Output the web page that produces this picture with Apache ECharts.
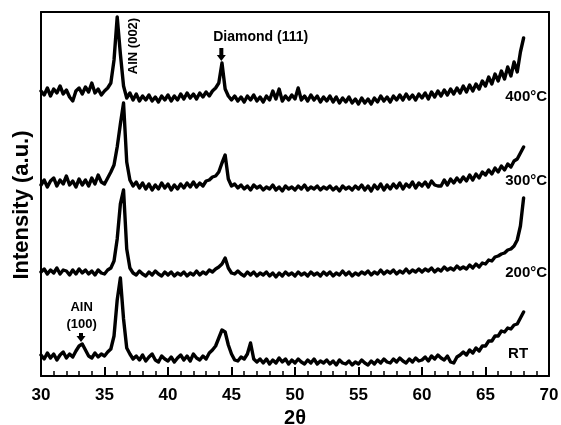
<!DOCTYPE html>
<html>
<head>
<meta charset="utf-8">
<script src="https://cdn.jsdelivr.net/npm/echarts@6/dist/echarts.min.js"></script>
<style>html,body{margin:0;padding:0;background:#fff;}#c{width:561px;height:425px;}</style>
</head>
<body>
<div id="c"></div>
<script>
// 2θ sampling grid (degrees)
const angleStart = 30, angleStep = 0.25, angleCount = 153;
const xTicks = [30, 35, 40, 45, 50, 55, 60, 65, 70];
const seriesNames = ['400°C', '300°C', '200°C', 'RT'];

// Intensities (a.u., offset as in the figure)
const int400 = [
 285,281,288,280,287,283,290,282,286,279,
 275,285,288,282,289,284,293,283,287,281,
 285,288,293,316,359,322,290,278,283,276,
 282,275,280,276,281,275,279,274,280,276,
 281,275,280,276,282,277,283,278,282,277,
 283,279,284,280,285,288,293,313,287,280,
 276,280,275,279,274,280,276,281,275,279,
 274,280,276,285,277,287,275,280,276,281,
 277,288,276,280,275,281,276,280,274,279,
 275,280,274,279,273,278,274,279,273,277,
 272,278,273,277,272,278,274,280,275,279,
 274,280,276,281,276,282,277,281,276,282,
 278,283,277,284,279,285,280,286,281,287,
 282,288,283,290,284,291,285,292,287,295,
 290,299,292,302,295,305,297,309,300,314,
 304,324,338];
const int300 = [
 191,196,189,195,198,190,196,192,200,191,
 195,189,197,191,196,190,198,192,201,194,
 192,198,204,211,229,252,273,214,196,190,
 194,188,193,187,192,186,191,187,193,188,
 192,186,191,187,192,188,193,189,194,189,
 193,190,195,196,199,200,204,213,221,197,
 190,192,188,191,187,190,186,191,188,190,
 186,189,187,191,186,189,185,190,187,189,
 186,190,187,191,186,189,187,190,186,189,
 187,190,186,189,185,190,187,189,186,190,
 187,191,186,190,185,191,187,192,186,191,
 187,192,188,193,187,192,189,194,188,193,
 190,194,189,195,191,190,190,196,191,197,
 193,198,194,199,195,201,196,202,198,204,
 201,206,202,208,204,210,206,212,209,215,
 217,223,229];
const int200 = [
 104,107,102,106,103,108,102,106,105,101,
 106,102,107,103,106,102,105,101,106,103,
 102,106,108,115,137,172,186,127,108,103,
 101,105,102,100,104,101,105,102,100,104,
 101,104,100,103,101,104,100,103,101,105,
 101,104,102,106,104,107,109,112,118,108,
 103,102,105,102,100,104,101,104,100,103,
 101,104,100,103,99,103,100,104,101,103,
 100,104,101,103,100,104,101,103,100,104,
 101,104,100,103,101,105,101,104,100,103,
 101,104,102,105,101,104,102,106,102,105,
 103,106,102,105,103,107,103,106,104,107,
 104,107,105,108,104,107,105,109,106,108,
 106,110,107,109,107,111,108,112,109,113,
 112,116,115,119,120,122,123,126,127,130,
 136,150,178];
const intRT = [
 21,17,23,18,22,16,21,24,18,22,
 19,25,30,32,26,20,18,23,19,22,
 20,24,27,40,76,98,57,28,22,17,
 20,16,21,15,19,22,16,14,20,17,
 15,19,14,18,21,16,20,15,22,18,
 16,20,17,23,26,30,38,46,44,31,
 22,16,15,19,17,22,33,17,14,17,
 13,17,12,16,13,18,14,17,12,16,
 13,17,14,12,16,13,17,12,15,13,
 16,12,15,11,16,13,12,15,11,14,
 12,16,13,11,15,12,16,13,17,14,
 13,17,14,18,15,13,17,14,18,15,
 16,19,15,20,17,21,18,16,20,14,
 13,19,21,24,21,26,23,28,25,30,
 30,35,35,40,40,45,44,48,47,51,
 52,58,64];

const allInts = [int400, int300, int200, intRT];
const angles = Array.from({length: angleCount}, (_, i) => angleStart + i * angleStep);

const chart = echarts.init(document.getElementById('c'), null, {renderer: 'canvas'});
const F = 'Liberation Sans, Arial, sans-serif';

const series = allInts.map((arr, k) => ({
  name: seriesNames[k],
  type: 'line',
  showSymbol: false,
  animation: false,
  lineStyle: {color: '#000', width: 3.4, join: 'round', cap: 'round'},
  data: arr.map((v, i) => [angles[i], v])
}));

chart.setOption({
  backgroundColor: '#fff',
  animation: false,
  grid: {left: 41, right: 12, top: 12, bottom: 49, containLabel: false, outerBoundsMode: 'none'},
  xAxis: [{
    type: 'value', min: 30, max: 70, interval: 5,
    name: '2θ', nameLocation: 'middle', nameGap: 27,
    nameTextStyle: {fontFamily: F, fontSize: 20, fontWeight: 'bold', color: '#000'},
    axisLine: {onZero: false, lineStyle: {color: '#000', width: 2}},
    axisTick: {inside: true, length: 9, lineStyle: {color: '#000', width: 2}},
    minorTick: {show: true, splitNumber: 5, length: 5, lineStyle: {color: '#000', width: 1.5}},
    axisLabel: {fontFamily: F, fontSize: 17, fontWeight: 'bold', color: '#000', margin: 11},
    splitLine: {show: false}
  }, {
    type: 'value', min: 30, max: 70, position: 'top',
    axisLine: {show: true, onZero: false, lineStyle: {color: '#000', width: 2}},
    axisTick: {show: false}, axisLabel: {show: false}, splitLine: {show: false}
  }],
  yAxis: [{
    type: 'value', min: 0, max: 364,
    axisLine: {show: true, onZero: false, lineStyle: {color: '#000', width: 2}},
    axisTick: {show: false}, axisLabel: {show: false}, splitLine: {show: false}
  }, {
    type: 'value', min: 0, max: 364, position: 'right',
    axisLine: {show: true, onZero: false, lineStyle: {color: '#000', width: 2}},
    axisTick: {show: false}, axisLabel: {show: false}, splitLine: {show: false}
  }],
  series: series
});

function px(x, y) { return chart.convertToPixel({xAxisIndex: 0, yAxisIndex: 0}, [x, y]); }
function txt(x, y, s, opt) {
  const p = px(x, y);
  return {
    type: 'text', x: p[0], y: p[1], z: 10,
    style: Object.assign({text: s, fill: '#000', font: 'bold 14px ' + F, align: 'center', verticalAlign: 'middle'}, opt || {})
  };
}
function arrow(x, yTop, yTip) {
  const a = px(x, yTop), b = px(x, yTip);
  const cx = a[0];
  return [
    {type: 'rect', z: 10, shape: {x: cx - 2, y: a[1], width: 4, height: (b[1] - a[1]) - 5}, style: {fill: '#000'}},
    {type: 'polygon', z: 10, shape: {points: [[cx - 4.5, b[1] - 6], [cx + 4.5, b[1] - 6], [cx, b[1]]]}, style: {fill: '#000'}}
  ];
}

const rot = px(37.3, 330);
const yTitle = px(30, 171);
const graphics = [
  {type: 'text', x: yTitle[0] - 19, y: yTitle[1], rotation: Math.PI / 2, z: 10,
   style: {text: 'Intensity (a.u.)', fill: '#000', font: 'bold 22px ' + F, align: 'center', verticalAlign: 'middle'}},
  txt(47.3, 339, 'Diamond (111)', {font: 'bold 14px ' + F}),
  ...arrow(44.2, 328, 315),
  {type: 'text', x: rot[0], y: rot[1], rotation: Math.PI / 2, z: 10,
   style: {text: 'AlN (002)', fill: '#000', font: 'bold 13px ' + F, align: 'center', verticalAlign: 'middle'}},
  txt(33.2, 69, 'AlN', {font: 'bold 13px ' + F}),
  txt(33.2, 52, '(100)', {font: 'bold 13px ' + F}),
  ...arrow(33.15, 43, 34),
  txt(69.85, 279, '400°C', {align: 'right', font: 'bold 15px ' + F}),
  txt(69.85, 195, '300°C', {align: 'right', font: 'bold 15px ' + F}),
  txt(69.85, 103, '200°C', {align: 'right', font: 'bold 15px ' + F}),
  txt(68.35, 22, 'RT', {align: 'right', font: 'bold 15px ' + F})
];
chart.setOption({graphic: graphics});
</script>
</body>
</html>
